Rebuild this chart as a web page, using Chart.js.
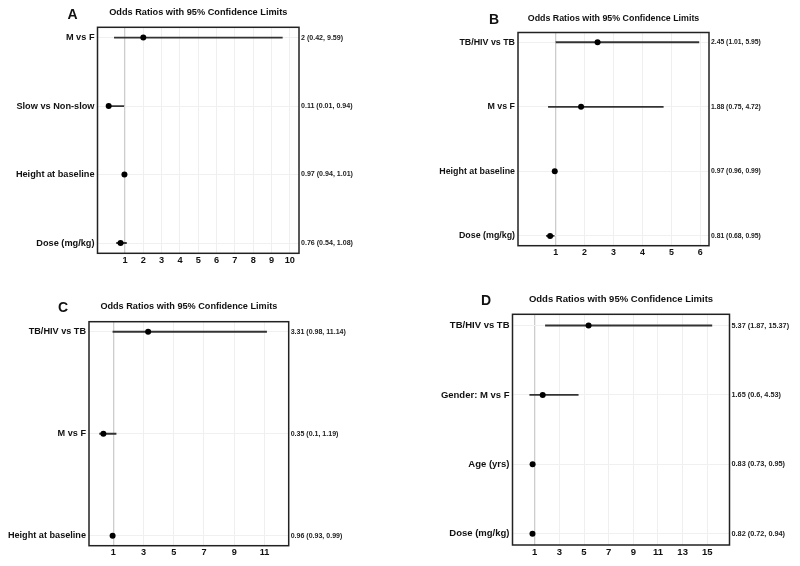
<!DOCTYPE html>
<html>
<head>
<meta charset="utf-8">
<script src="https://cdn.jsdelivr.net/npm/chart.js@4.4.0/dist/chart.umd.min.js"></script>
<style>
  html, body { margin: 0; padding: 0; background: #fff; }
  #page { position: relative; width: 800px; height: 566px; overflow: hidden; }
  #page canvas { position: absolute; }
  .tag { position: absolute; font: bold 14px "Liberation Sans", Arial, sans-serif; color: #111; transform: translate(-50%, -50%); }
</style>
</head>
<body>
<div id="page">
  <canvas id="chartA" width="400" height="283" style="left:0;top:0"></canvas>
  <canvas id="chartB" width="400" height="283" style="left:400px;top:0"></canvas>
  <canvas id="chartC" width="400" height="283" style="left:0;top:283px"></canvas>
  <canvas id="chartD" width="400" height="283" style="left:400px;top:283px"></canvas>
  <div class="tag" style="left:72.5px;top:13.5px">A</div>
  <div class="tag" style="left:494px;top:18.8px">B</div>
  <div class="tag" style="left:63px;top:307px">C</div>
  <div class="tag" style="left:486px;top:300px">D</div>
</div>
<script>
// 패널 A
const labelsA = ['M vs F', 'Slow vs Non-slow', 'Height at baseline', 'Dose (mg/kg)'];
const oddsA = [2, 0.11, 0.97, 0.76];
const lowerA = [0.42, 0.01, 0.94, 0.54];
const upperA = [9.59, 0.94, 1.01, 1.08];
const ticksA = [1, 2, 3, 4, 5, 6, 7, 8, 9, 10];

// 패널 B
const labelsB = ['TB/HIV vs TB', 'M vs F', 'Height at baseline', 'Dose (mg/kg)'];
const oddsB = [2.45, 1.88, 0.97, 0.81];
const lowerB = [1.01, 0.75, 0.96, 0.68];
const upperB = [5.95, 4.72, 0.99, 0.95];
const ticksB = [1, 2, 3, 4, 5, 6];

// 패널 C
const labelsC = ['TB/HIV vs TB', 'M vs F', 'Height at baseline'];
const oddsC = [3.31, 0.35, 0.96];
const lowerC = [0.98, 0.1, 0.93];
const upperC = [11.14, 1.19, 0.99];
const ticksC = [1, 3, 5, 7, 9, 11];

// 패널 D
const labelsD = ['TB/HIV vs TB', 'Gender: M vs F', 'Age (yrs)', 'Dose (mg/kg)'];
const oddsD = [5.37, 1.65, 0.83, 0.82];
const lowerD = [1.87, 0.6, 0.73, 0.72];
const upperD = [15.37, 4.53, 0.95, 0.94];
const ticksD = [1, 3, 5, 7, 9, 11, 13, 15];

const TITLE = 'Odds Ratios with 95% Confidence Limits';
const FONT = '"Liberation Sans", Arial, sans-serif';
const W = 400, H = 283;

// 패널 테두리
const frame = {
  id: 'frame',
  afterDatasetsDraw(chart) {
    const { ctx, chartArea: a } = chart;
    ctx.save();
    ctx.strokeStyle = '#222';
    ctx.lineWidth = 1.5;
    ctx.strokeRect(a.left, a.top, a.right - a.left, a.bottom - a.top);
    ctx.restore();
  },
};

// box = [left, top, right, bottom] inside the canvas
const panels = [
  { id: 'chartA', labels: labelsA, odds: oddsA, lower: lowerA, upper: upperA, ticks: ticksA, limit: 10,
    box: [97.5, 27.3, 299, 253.3], titleY: 12.3, gap: 10.3, font: 9.2 },
  { id: 'chartB', labels: labelsB, odds: oddsB, lower: lowerB, upper: upperB, ticks: ticksB, limit: 6,
    box: [118, 32.5, 309, 245.7], titleY: 18.3, gap: 9.8, font: 8.85 },
  { id: 'chartC', labels: labelsC, odds: oddsC, lower: lowerC, upper: upperC, ticks: ticksC, limit: 12,
    box: [89, 38.7, 288.7, 262.7], titleY: 23, gap: 10, font: 9.15 },
  { id: 'chartD', labels: labelsD, odds: oddsD, lower: lowerD, upper: upperD, ticks: ticksD, limit: 16,
    box: [112.5, 31.3, 329.5, 262], titleY: 16, gap: 11.2, font: 9.5 },
];

const makeChart = (p) => {
  const n = p.labels.length;
  const [L, T, R, B] = p.box;
  const step = (B - T - 2 * p.gap) / (n - 1);
  const pad = p.gap / step;
  const lh = p.font * 1.2;
  const notes = p.odds.map((v, i) => `${v} (${p.lower[i]}, ${p.upper[i]})`);
  const mainFont = { family: FONT, size: p.font, weight: 'bold' };
  const noteFont = { family: FONT, size: p.font * 0.77, weight: 'bold' };
  const rowTicks = (s) => { s.ticks = p.labels.map((_, i) => ({ value: i })); };

  return new Chart(document.getElementById(p.id), {
    type: 'bar',
    data: {
      datasets: [
        {
          type: 'scatter',
          data: p.odds.map((v, i) => ({ x: v, y: i })),
          pointRadius: 3,
          pointBackgroundColor: '#000',
          pointBorderWidth: 0,
          order: 0,
        },
        {
          type: 'bar',
          data: p.lower.map((v, i) => ({ x: [v, p.upper[i]], y: i })),
          backgroundColor: '#333',
          barThickness: 1.2,
          order: 1,
        },
      ],
    },
    options: {
      indexAxis: 'y',
      responsive: false,
      animation: false,
      events: [],
      layout: { padding: 0 },
      plugins: {
        legend: { display: false },
        tooltip: { enabled: false },
        title: {
          display: true,
          text: TITLE,
          fullSize: false,
          color: '#111',
          font: mainFont,
          padding: { top: p.titleY - lh / 2, bottom: T - p.titleY - lh / 2 },
        },
      },
      scales: {
        x: {
          type: 'linear',
          position: 'bottom',
          min: -0.05 * p.limit,
          max: 1.05 * p.limit,
          offset: false,
          afterBuildTicks: (s) => { s.ticks = p.ticks.map((v) => ({ value: v })); },
          afterFit: (s) => { s.height = H - B; },
          grid: {
            drawTicks: false,
            offset: false,
            color: (c) => (c.tick && c.tick.value === 1 ? '#cdcdcd' : '#efefef'),
            lineWidth: (c) => (c.tick && c.tick.value === 1 ? 1.3 : 1),
          },
          border: { display: false },
          ticks: { font: mainFont, color: '#111', padding: 1.5, maxRotation: 0, autoSkip: false },
        },
        y: {
          type: 'linear',
          position: 'left',
          reverse: true,
          offset: false,
          min: -pad,
          max: n - 1 + pad,
          afterBuildTicks: rowTicks,
          afterFit: (s) => { s.width = L; },
          grid: { drawTicks: false, offset: false, color: '#f0f0f0' },
          border: { display: false },
          ticks: { font: mainFont, color: '#111', padding: 3, autoSkip: false, callback: (v, i) => p.labels[i] },
        },
        y2: {
          type: 'linear',
          position: 'right',
          reverse: true,
          offset: false,
          min: -pad,
          max: n - 1 + pad,
          afterBuildTicks: rowTicks,
          afterFit: (s) => { s.width = W - R; },
          grid: { display: false, drawTicks: false },
          border: { display: false },
          ticks: { font: noteFont, color: '#222', padding: 2, autoSkip: false, callback: (v, i) => notes[i] },
        },
      },
    },
    plugins: [frame],
  });
};

panels.forEach(makeChart);
</script>
</body>
</html>
